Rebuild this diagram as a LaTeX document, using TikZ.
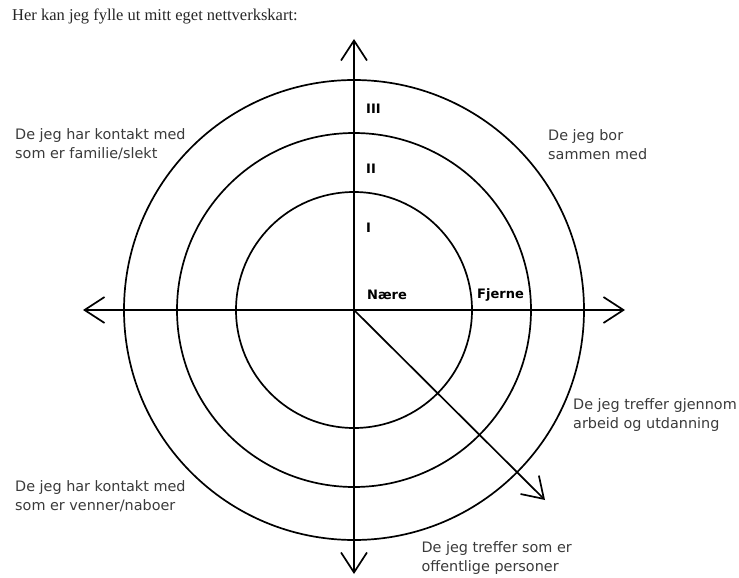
\documentclass[tikz,border=0pt]{standalone}
\usepackage{fontspec}
\setmainfont{Liberation Serif}
\setsansfont{DejaVu Sans}
\usetikzlibrary{arrows.meta}
\definecolor{tekstgraa}{HTML}{3A3A3A}
\tikzset{
  pil/.style={line width=1.7pt, -{Straight Barb[length=20pt,width=26pt]}},
  ring/.style={line width=1.7pt},
  forklaring/.style={font=\sffamily\fontsize{14.4}{19}\selectfont, text=tekstgraa, align=left, inner sep=0pt},
  merke/.style={font=\sffamily\bfseries\fontsize{13}{15}\selectfont, inner sep=0pt, anchor=west},
}

\begin{document}
\begin{tikzpicture}[x=1pt, y=-1pt]
    \useasboundingbox (0,0) rectangle (739,578);
    \node[anchor=west, inner sep=0pt, font=\fontsize{16.5}{19}\selectfont, text=black!85] (tittel) at (12,16) {Her kan jeg fylle ut mitt eget nettverkskart:};
    \coordinate (sentrum) at (354,310);
    \draw[ring] (sentrum) circle[radius=118];
    \draw[ring] (sentrum) circle[radius=177];
    \draw[ring] (sentrum) circle[radius=230];
    \coordinate (opp) at (354,39);
    \coordinate (ned) at (354,574);
    \coordinate (venstre) at (83,310);
    \coordinate (hoyre) at (625,310);
    \coordinate (skraa) at (545,500);
    \draw[pil] (sentrum) -- (opp);
    \draw[pil] (sentrum) -- (ned);
    \draw[pil] (sentrum) -- (venstre);
    \draw[pil] (sentrum) -- (hoyre);
    \draw[pil] (sentrum) -- (skraa);
    \node[merke] (ring3) at (366,109) {III};
    \node[merke] (ring2) at (366,169) {II};
    \node[merke] (ring1) at (366,228) {I};
    \node[merke] (naere) at (367,295) {Nære};
    \node[merke] (fjerne) at (477,295) {Fjerne};
    %forklaringer
    \node[forklaring, anchor=west] (familie) at (15,144) {De jeg har kontakt med\\som er familie/slekt};
    \node[forklaring, anchor=west] (bor) at (548,145) {De jeg bor\\sammen med};
    \node[forklaring, anchor=west] (arbeid) at (573,415) {De jeg treffer gjennom\\arbeid og utdanning};
    \node[forklaring, anchor=west] (venner) at (15,496) {De jeg har kontakt med\\som er venner/naboer};
    \node[forklaring, anchor=east] (offentlige) at (572,558) {De jeg treffer som er\\offentlige personer};
\end{tikzpicture}
\end{document}
